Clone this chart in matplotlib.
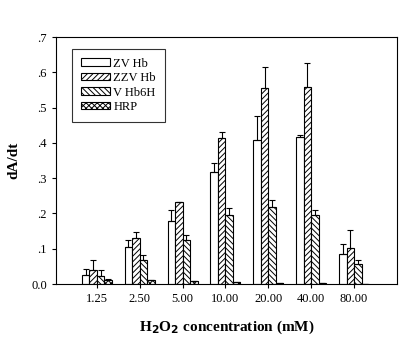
import numpy as np
import matplotlib
matplotlib.use('Agg')
import matplotlib.pyplot as plt

"""Data read off the reference"""
concentrations = ['1.25', '2.50', '5.00', '10.00', '20.00', '40.00', '80.00']
series_names = ['ZV Hb', 'ZZV Hb', 'V Hb6H', 'HRP']

zvhb = [0.025, 0.105, 0.179, 0.317, 0.408, 0.416, 0.085]
zvhb_err = [0.018, 0.021, 0.031, 0.026, 0.068, 0.006, 0.028]
zzvhb = [0.040, 0.130, 0.232, 0.414, 0.555, 0.558, 0.102]
zzvhb_err = [0.029, 0.017, 0.0, 0.017, 0.060, 0.068, 0.051]
vhb6h = [0.023, 0.068, 0.125, 0.196, 0.218, 0.196, 0.057]
vhb6h_err = [0.017, 0.014, 0.014, 0.019, 0.020, 0.014, 0.011]
hrp = [0.012, 0.011, 0.008, 0.005, 0.003, 0.002, 0.0]
hrp_err = [0.002, 0.0, 0.0, 0.0, 0.0, 0.0, 0.0]

yticks = [0.0, 0.1, 0.2, 0.3, 0.4, 0.5, 0.6, 0.7]
ytick_labels = ['0.0', '.1', '.2', '.3', '.4', '.5', '.6', '.7']

plt.rcParams['font.family'] = ['Liberation Serif', 'DejaVu Serif']
plt.rcParams['hatch.linewidth'] = 0.7

fig = plt.figure(figsize=(4.19, 3.44), dpi=100)
ax = fig.add_axes([0.1337, 0.1744, 0.8138, 0.718])

values = [zvhb, zzvhb, vhb6h, hrp]
errors = [zvhb_err, zzvhb_err, vhb6h_err, hrp_err]
hatches = ['', '//////', '\\\\\\\\\\\\', 'xxxxxx']
x = np.arange(len(concentrations))
width = 0.175

for i in range(4):
    pos = x + (i - 1.5) * width
    ax.bar(pos, values[i], width, color='white', edgecolor='black',
           linewidth=0.8, hatch=hatches[i], label=series_names[i])
    err = np.array(errors[i])
    ax.errorbar(pos, values[i], yerr=[np.zeros_like(err), err], fmt='none',
                ecolor='black', elinewidth=0.8, capsize=2.5, capthick=0.8)

ax.set_xlim(-0.95, 7.0)
ax.set_ylim(0, 0.7)
ax.set_xticks(x)
ax.set_xticklabels(concentrations, fontsize=9)
ax.set_yticks(yticks)
ax.set_yticklabels(ytick_labels, fontsize=9)
ax.tick_params(direction='out', length=3, width=0.8)

for s in ax.spines.values():
    s.set_linewidth(0.8)

ax.set_ylabel('dA/dt', fontsize=11, fontweight='bold', labelpad=8)
ax.set_xlabel('H$_\\mathbf{2}$O$_\\mathbf{2}$ concentration (mM)', fontsize=11,
              fontweight='bold', labelpad=10)

leg = ax.legend(loc='upper left', bbox_to_anchor=(0.047, 0.952), fontsize=9,
                frameon=True, fancybox=False, edgecolor='black',
                handlelength=2.3, handleheight=0.55, labelspacing=0.2,
                borderpad=0.7, handletextpad=0.3, borderaxespad=0)
leg.get_frame().set_linewidth(0.8)

plt.savefig('out.png', dpi=100)
